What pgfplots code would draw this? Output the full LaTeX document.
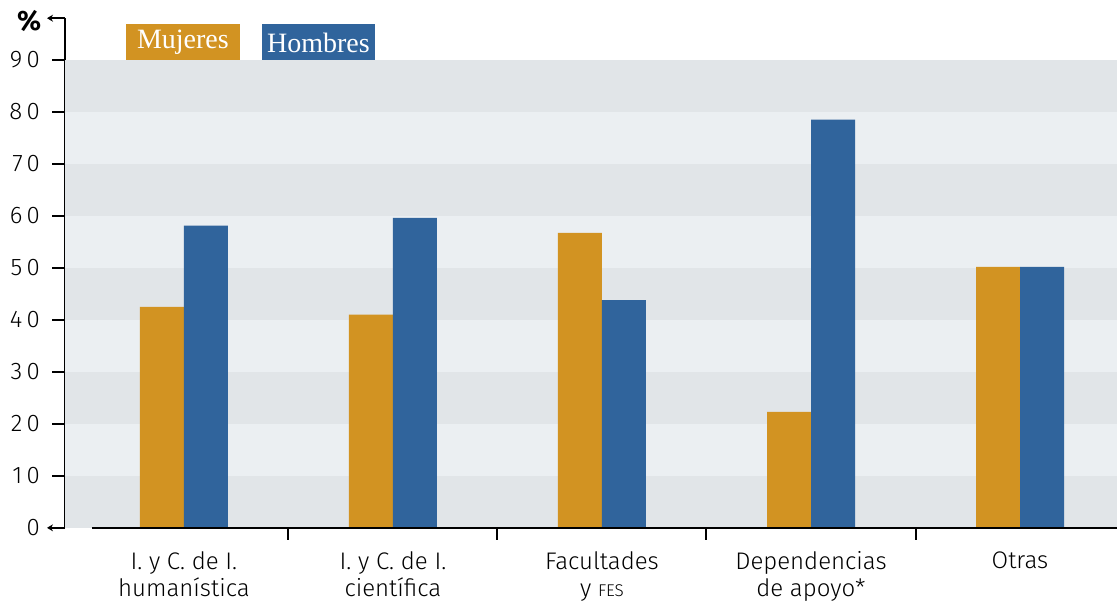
\documentclass[border=0pt]{standalone}
\usepackage{fontspec}
\setmainfont{Fira Sans Light}
\newfontfamily\legfont{Liberation Serif}
\newfontfamily\boldsans{Fira Sans}
\usepackage{pgfplots}
\pgfplotsset{compat=1.18}
\usepackage{pgfplotstable}
\usetikzlibrary{arrows.meta,calc}

\definecolor{muj}{RGB}{210,147,34}
\definecolor{hom}{RGB}{48,100,156}
\definecolor{banddark}{RGB}{225,229,232}
\definecolor{bandlight}{RGB}{235,239,242}

% porcentaje por tipo de dependencia
\pgfplotstableread{
cat muj  hom
0   42.5 58.1
1   41.0 59.6
2   56.7 43.8
3   22.3 78.5
4   50.2 50.2
}\datatable

\begin{document}
\begin{tikzpicture}
\begin{axis}[
    x=104.5pt, y=2.6pt,
    xmin=-0.569, xmax=4.464,
    ymin=0, ymax=98,
    clip=false,
    axis y line*=left,
    axis x line*=bottom,
    y axis line style={line width=1pt, -},
    x axis line style={draw=none, -},
    tick align=outside,
    major tick length=6pt,
    ytick={0,10,...,90},
    ytick style={draw=none},
    yticklabel style={font=\addfontfeatures{LetterSpace=18}\fontsize{12}{14}\selectfont, xshift=-3pt},
    /pgf/number format/assume math mode=true,
    xtick={0,1,2,3,4},
    xtick style={draw=none},
    xticklabels={{I. y C. de I.\\humanística},{I. y C. de I.\\científica},{Facultades\\y {\fontsize{8.5}{10}\selectfont FES}},{Dependencias\\de apoyo*},{Otras}},
    xticklabel style={align=center, font=\fontsize{12}{13.5}\selectfont, yshift=-2.5pt},
    ybar=0pt, bar width=22pt,
  ]

  %% bandas de fondo
  \fill[banddark]  (axis cs:-0.569,0)  rectangle (axis cs:4.464,10);
  \fill[bandlight] (axis cs:-0.569,10) rectangle (axis cs:4.464,20);
  \fill[banddark]  (axis cs:-0.569,20) rectangle (axis cs:4.464,30);
  \fill[bandlight] (axis cs:-0.569,30) rectangle (axis cs:4.464,40);
  \fill[banddark]  (axis cs:-0.569,40) rectangle (axis cs:4.464,50);
  \fill[bandlight] (axis cs:-0.569,50) rectangle (axis cs:4.464,60);
  \fill[banddark]  (axis cs:-0.569,60) rectangle (axis cs:4.464,70);
  \fill[bandlight] (axis cs:-0.569,70) rectangle (axis cs:4.464,80);
  \fill[banddark]  (axis cs:-0.569,80) rectangle (axis cs:4.464,90);

  \addplot[fill=muj, draw=none] table[x=cat, y=muj] {\datatable};
  \addplot[fill=hom, draw=none] table[x=cat, y=hom] {\datatable};

  %% ejes
  \draw[line width=1pt] (axis cs:-0.44,0) -- (axis cs:4.464,0);
  \draw[line width=1pt] (axis cs:0.5,0) -- ++(0pt,-6pt);
  \draw[line width=1pt] (axis cs:1.5,0) -- ++(0pt,-6pt);
  \draw[line width=1pt] (axis cs:2.5,0) -- ++(0pt,-6pt);
  \draw[line width=1pt] (axis cs:3.5,0) -- ++(0pt,-6pt);
  \draw[line width=1pt, -{Stealth[length=3pt,width=3.5pt]}] (axis cs:-0.569,0) -- ++(-9pt,0pt);
  \draw[line width=1pt, -{Stealth[length=3pt,width=3.5pt]}] (axis cs:-0.569,98) -- ++(-9pt,0pt);
  \node[font=\boldsans\bfseries\fontsize{14}{14}\selectfont] at (axis cs:-0.74,97.5) {\%};

  %% leyenda
  \fill[muj] (axis cs:-0.2775,90) rectangle (axis cs:0.268,96.9);
  \node[text=white, font=\legfont\fontsize{14}{14}\selectfont] at (axis cs:-0.005,93.3) {Mujeres};
  \fill[hom] (axis cs:0.373,90) rectangle (axis cs:0.914,96.9);
  \node[text=white, font=\legfont\fontsize{14}{14}\selectfont] at (axis cs:0.6435,93.3) {Hombres};

  \coordinate (Y0) at (axis cs:-0.569,0);
  \coordinate (Y90) at (axis cs:-0.569,90);
  \coordinate (BL) at (axis cs:-0.880,-14.42);
  \coordinate (TR) at (axis cs:4.464,101.5);
\end{axis}
%% marcas del eje y
\foreach \k in {1,...,9} {
  \draw[line width=1pt] ($(Y0)!\k/9!(Y90)$) -- ++(-6.5pt,0pt);
}
\pgfresetboundingbox
\path (BL) rectangle (TR);
\end{tikzpicture}
\end{document}
